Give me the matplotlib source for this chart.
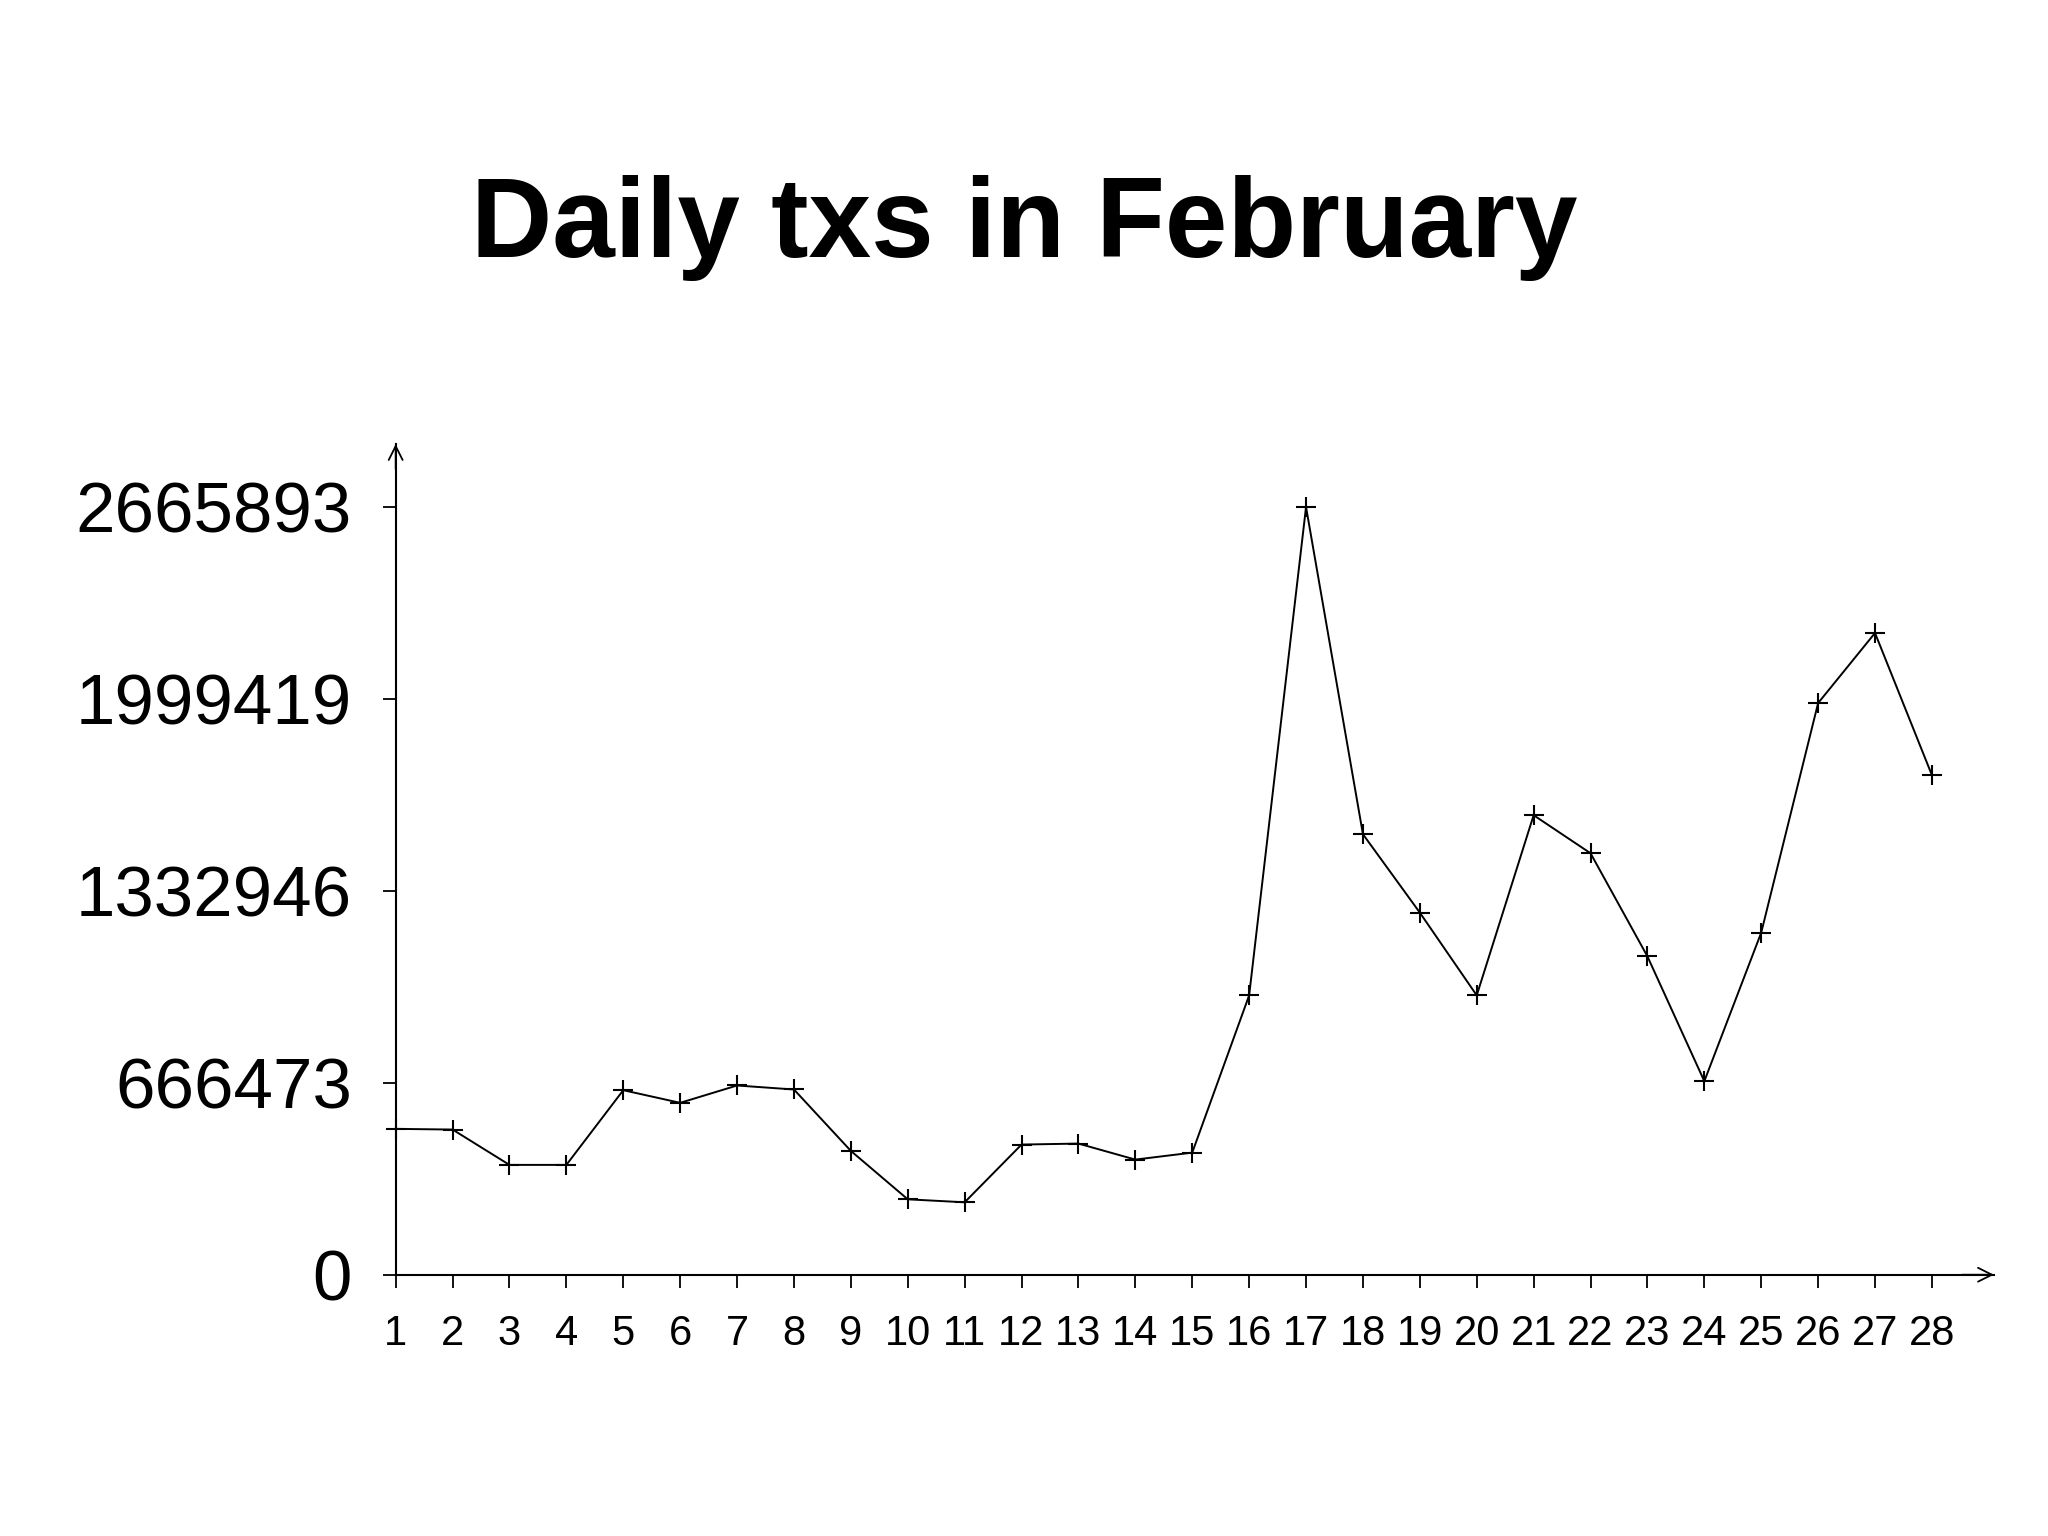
import matplotlib
matplotlib.use("Agg")
import matplotlib.pyplot as plt

days = list(range(1, 29))
txs = [506500, 504100, 381400, 381400, 640800, 596900, 657100, 643200,
       430000, 261900, 251500, 452000, 455400, 399800, 424000, 970000,
       2665893, 1529700, 1257400, 970000, 1595700, 1463600, 1105500, 672000,
       1187900, 1985100, 2228500, 1734800]
yticks = [0, 666473, 1332946, 1999419, 2665893]
title = "Daily txs in February"

plt.rcParams['font.family'] = ['Liberation Sans', 'DejaVu Sans']

fig = plt.figure(figsize=(20.48, 15.36), dpi=100)
ax = fig.add_axes([0.1932, 0.1701, 0.9736 - 0.1932, 0.7109 - 0.1701])

ax.plot(days, txs, color='black', linewidth=1.4, marker='+',
        markersize=14, markeredgewidth=1.5, clip_on=False)

ax.set_xlim(1, 29.09)
ax.set_ylim(0, 2665893 * 1.082)
ax.set_xticks(days)
ax.set_xticklabels([str(d) for d in days], fontsize=30)
ax.set_yticks(yticks)
ax.set_yticklabels([str(v) for v in yticks], fontsize=51)

for s in ['top', 'right']:
    ax.spines[s].set_visible(False)
for s in ['left', 'bottom']:
    ax.spines[s].set_linewidth(1.5)
    ax.spines[s].set_color('black')

ax.tick_params(axis='x', direction='out', length=9.4, width=1.3, pad=19)
ax.tick_params(axis='y', direction='out', length=9.4, width=1.3, pad=22)

# arrowheads at axis ends
ax.annotate('', xy=(1, 0), xycoords='axes fraction', xytext=(0.98, 0),
            textcoords='axes fraction',
            arrowprops=dict(arrowstyle='->', color='black', lw=1.3,
                            mutation_scale=25, shrinkA=0, shrinkB=0))
ax.annotate('', xy=(0, 1), xycoords='axes fraction', xytext=(0, 0.97),
            textcoords='axes fraction',
            arrowprops=dict(arrowstyle='->', color='black', lw=1.3,
                            mutation_scale=25, shrinkA=0, shrinkB=0))

fig.text(0.5, 0.8327, title, ha='center', va='baseline',
         fontsize=81, fontweight='bold')

fig.savefig('out.png', dpi=100, facecolor='white')
